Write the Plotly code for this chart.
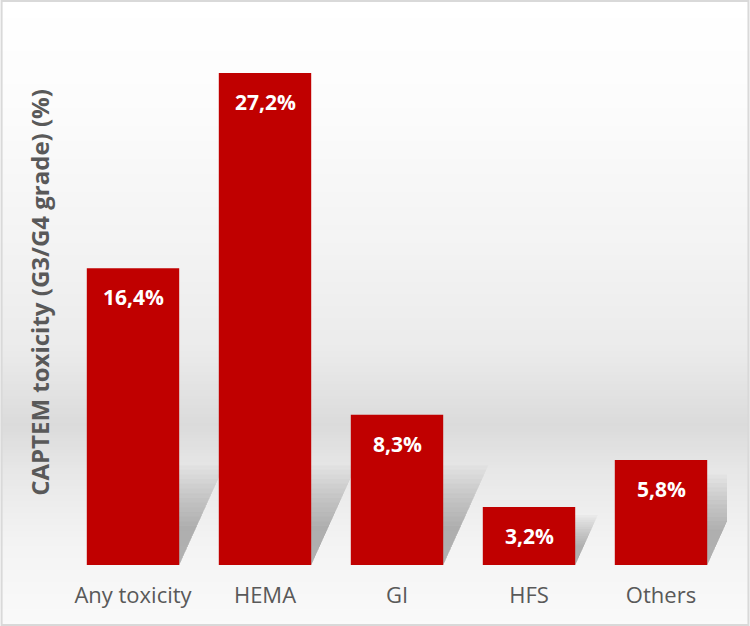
import plotly.graph_objects as go

categories = ["Any toxicity", "HEMA", "GI", "HFS", "Others"]
values = [16.4, 27.2, 8.3, 3.2, 5.8]
labels = ["16,4%", "27,2%", "8,3%", "3,2%", "5,8%"]

W, H = 750, 626
L, R, T, B = 66.5, 22.5, 20, 61
PW, PH = W - L - R, H - T - B
YMAX = 30.13
BAR_W = 0.7

def px(x):
    return (x - L) / PW

def py(y):
    return (H - B - y) / PH

fig = go.Figure()
fig.add_trace(go.Bar(
    x=list(range(len(categories))), y=values,
    marker=dict(color="#C00000", line=dict(width=0)),
    width=BAR_W, hoverinfo="skip",
))

annotations = [
    dict(x=i, y=v, text=t, xref="x", yref="y", showarrow=False, yshift=-29,
         font=dict(family="Open Sans", size=21, color="white", weight="bold"))
    for i, (v, t) in enumerate(zip(values, labels))
]

# background gradient (style)
stops = [(0, 255), (100, 252), (250, 243), (350, 235), (425, 219), (470, 231), (540, 243), (626, 250)]
def gray_at(y):
    for (y0, g0), (y1, g1) in zip(stops[:-1], stops[1:]):
        if y0 <= y <= y1:
            return g0 + (g1 - g0) * (y - y0) / (y1 - y0)
    return 255

shapes = []
step = 3
for y in range(0, H, step):
    g = int(round(gray_at(y + step / 2)))
    shapes.append(dict(type="rect", xref="paper", yref="paper", layer="below",
                       x0=px(0), x1=px(W), y0=py(y + step), y1=py(y),
                       fillcolor=f"rgb({g},{g},{g})", line=dict(width=0)))

# soft cast shadows behind bars (decorative)
for i, v in enumerate(values):
    dy = min(v * 0.75, 4.8)
    dx = dy * 0.062
    n = 14
    for k in range(n):
        s = 0.45 + 0.7 * k / (n - 1)
        x0 = i - BAR_W / 2
        x1 = i + BAR_W / 2
        ddx, ddy = dx * s, dy * s
        path = (f"M {x0},0 L {x1},0 L {x1 + ddx},{ddy} L {x0 + ddx},{ddy} Z")
        shapes.append(dict(type="path", xref="x", yref="y", layer="below", path=path,
                           fillcolor="rgba(80,80,80,0.035)", line=dict(width=0)))

shapes.append(dict(type="rect", xref="paper", yref="paper", layer="above",
                   x0=px(1), x1=px(W - 1), y0=py(H - 1), y1=py(1),
                   fillcolor="rgba(0,0,0,0)", line=dict(color="#D9D9D9", width=2)))

fig.update_layout(
    width=W, height=H,
    margin=dict(l=L, r=R, t=T, b=B, pad=0),
    paper_bgcolor="white", plot_bgcolor="rgba(0,0,0,0)",
    showlegend=False, bargap=0.3,
    shapes=shapes, annotations=annotations,
    font=dict(family="Open Sans", color="#595959"),
    xaxis=dict(range=[-0.5, len(categories) - 0.5], showgrid=False, showline=False,
               zeroline=False, ticks="", tickmode="array",
               tickvals=list(range(len(categories))), ticktext=categories,
               ticklabelstandoff=15,
               tickfont=dict(family="Open Sans", size=22, color="#595959")),
    yaxis=dict(range=[0, YMAX], showgrid=False, showline=False, zeroline=False,
               showticklabels=False, ticks="",
               title=dict(text="CAPTEM toxicity (G3/G4 grade) (%)", standoff=9,
                          font=dict(family="Open Sans", size=24, color="#595959", weight="bold"))),
)
fig.write_html("out.html", config={"displayModeBar": False},
               post_script="document.body.style.margin='0';document.body.style.overflow='hidden';")
